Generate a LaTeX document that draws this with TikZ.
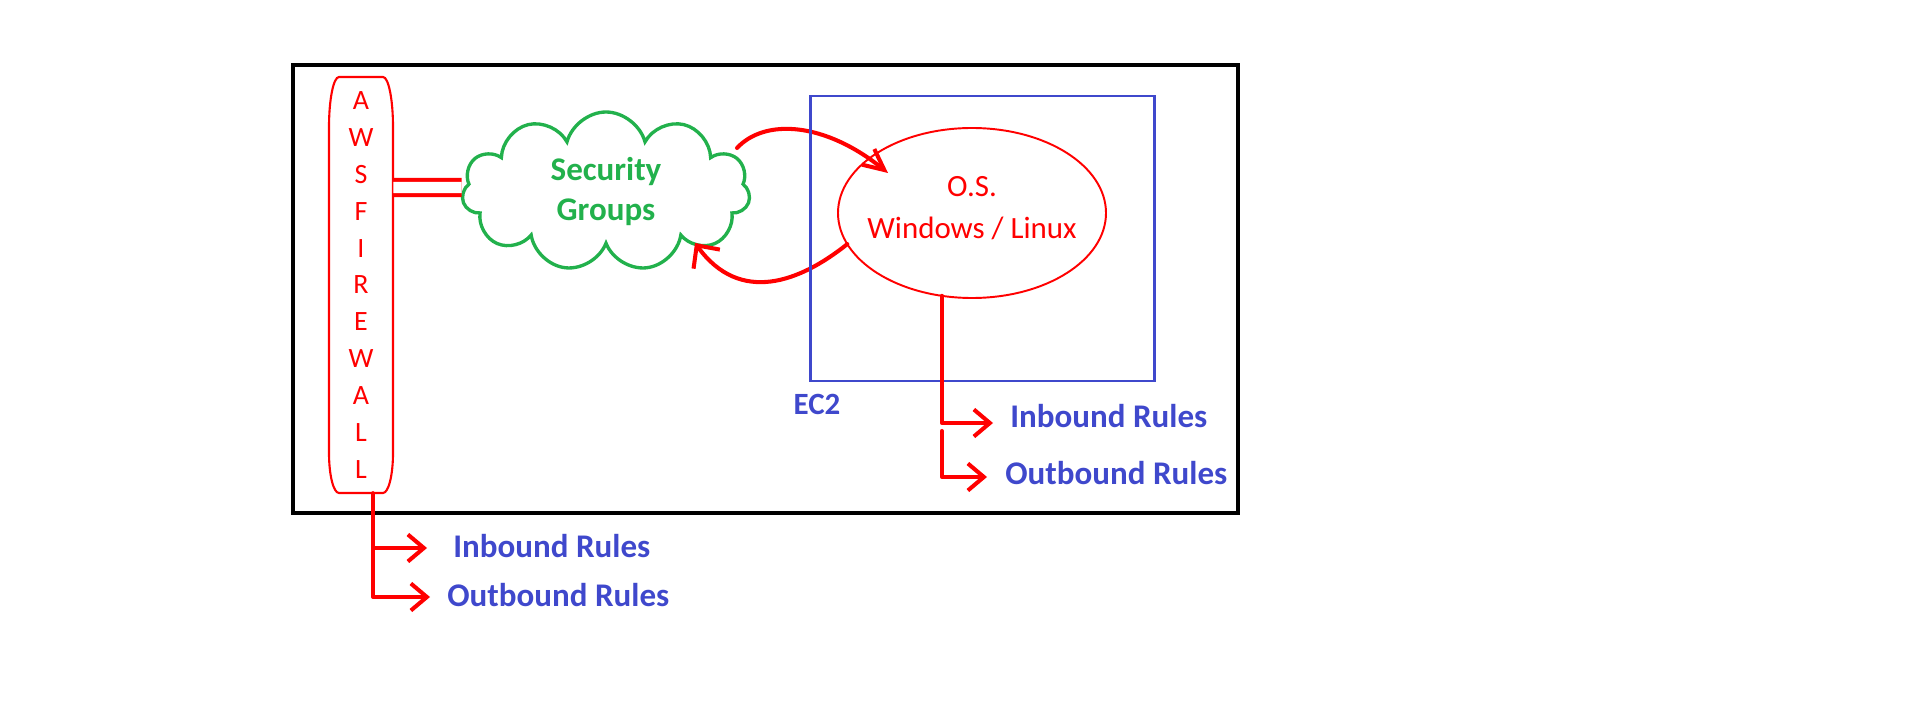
\documentclass[tikz,border=0pt]{standalone}
\usepackage{fontspec}
\setmainfont{Carlito}
\usepackage{tikz}
\usetikzlibrary{shapes.symbols,shapes.geometric,arrows.meta,calc}
\definecolor{osred}{RGB}{255,0,0}
\definecolor{sggreen}{RGB}{34,177,76}
\definecolor{ecblue}{RGB}{63,72,204}

\begin{document}
\begin{tikzpicture}[
  redarrow/.style={draw=osred, line width=2.3pt, line cap=round, line join=round},
  ruletip/.style={-{Straight Barb[length=0.32cm,width=0.54cm]}},
  rulelbl/.style={text=ecblue, font=\fontsize{18.8}{22}\selectfont\bfseries,
    anchor=base west, inner sep=0pt}
]
  \useasboundingbox (0,0) rectangle (38.28,14.34);

  \node[draw, line width=2pt, minimum width=18.9cm, minimum height=8.96cm, inner sep=0] (aws) at (15.31,8.56) {};

  % firewall
  \draw[osred, line width=1.2pt] (6.58,11.8) arc[start angle=180, end angle=90, x radius=0.2, y radius=1.0]
    -- (7.66,12.8) arc[start angle=90, end angle=0, x radius=0.2, y radius=1.0]
    -- (7.86,5.28) arc[start angle=0, end angle=-90, x radius=0.2, y radius=0.8]
    -- (6.78,4.48) arc[start angle=-90, end angle=-180, x radius=0.2, y radius=0.8] -- cycle;
  \node[minimum width=1.28cm, minimum height=8.32cm, inner sep=0, align=center, text=osred,
    font=\fontsize{15.9}{21}\selectfont] (fw) at (7.22,8.64) {A\\W\\S\\F\\I\\R\\E\\W\\A\\L\\L};

  \node[cloud, cloud puffs=11, cloud ignores aspect, draw=sggreen, line width=1.9pt,
    minimum width=5.76cm, minimum height=3.18cm, inner sep=0, align=center, text=sggreen,
    font=\fontsize{18.8}{22.8}\selectfont\bfseries] (sg) at (12.12,10.51) {Security\\Groups};
  \node[ellipse, draw=osred, line width=1.1pt, minimum width=5.36cm, minimum height=3.4cm,
    inner sep=0, outer sep=0] (os) at (19.44,10.08) {};
  \node[align=center, text=osred, font=\fontsize{17.6}{24}\selectfont] (oslbl) at ([yshift=0.1cm]os.center) {O.S.\\Windows / Linux};

  \draw[osred, line width=2.3pt, double=white, double distance=6.3pt]
    ([yshift=1.95cm]fw.east) -- ([yshift=0.08cm]sg.west);

  \draw[redarrow, -{Straight Barb[length=0.42cm,width=0.4cm]}] ($(sg.center)+(2.62,0.87)$)
    .. controls (15.3,11.98) and (16.5,11.9) .. ($(os.center)+(-1.68,0.8)$);
  \draw[redarrow, -{Straight Barb[length=0.34cm,width=0.65cm]}] (os.194)
    .. controls (16.0,8.7) and (14.8,8.24) .. ($(sg.center)+(1.78,-1.03)$);

  \node[draw=ecblue, line width=1.7pt, minimum width=6.88cm, minimum height=5.7cm, inner sep=0] (ec2) at (19.64,9.57) {};
  \node[text=ecblue, font=\fontsize{17.6}{20}\selectfont\bfseries] (ec2lbl) at (16.34,6.26) {EC2};

  % rule labels and arrow tips
  \coordinate (inRtip) at (19.86,5.88);
  \coordinate (outRtip) at (19.74,4.8);
  \coordinate (inLtip) at (8.54,3.38);
  \coordinate (outLtip) at (8.6,2.4);
  \node[rulelbl] (inR) at (20.2,5.78) {Inbound Rules};
  \node[rulelbl] (outR) at (20.1,4.66) {Outbound Rules};
  \node[rulelbl] (inL) at (9.06,3.2) {Inbound Rules};
  \node[rulelbl] (outL) at (8.94,2.22) {Outbound Rules};

  \draw[redarrow, ruletip] (os.250) |- (inRtip);
  \draw[redarrow, ruletip] ($(os.250 |- inRtip)+(0,-0.16)$) |- (outRtip);
  \draw[redarrow, ruletip] ([xshift=0.24cm]fw.south) |- (inLtip);
  \draw[redarrow, ruletip] ([xshift=0.24cm]fw.south) |- (outLtip);
\end{tikzpicture}
\end{document}
